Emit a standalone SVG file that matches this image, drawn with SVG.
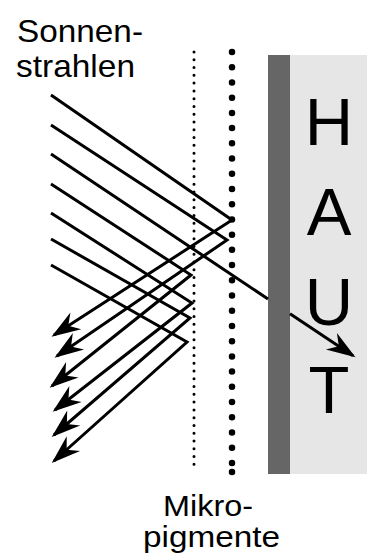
<svg xmlns="http://www.w3.org/2000/svg" width="367" height="556" viewBox="0 0 367 556">
<defs>
<style>
.lbl{font-family:"Liberation Sans",Arial,sans-serif;font-size:32px;fill:#000}
.lbl2{font-family:"Liberation Sans",Arial,sans-serif;font-size:29px;fill:#000}
.big{font-family:"Liberation Sans",Arial,sans-serif;font-size:67px;fill:#000;text-anchor:middle}
.ray{fill:none;stroke:#000;stroke-width:3;stroke-linejoin:miter;marker-end:url(#ah)}
</style>
<marker id="ah" markerUnits="userSpaceOnUse" orient="auto" refX="0" refY="0" markerWidth="40" markerHeight="40" overflow="visible">
<path d="M3,0 L-26,-10 L-17,0 L-26,10 Z" fill="#000"/>
</marker>
</defs>
<rect width="367" height="556" fill="#fff"/>
<g id="haut">
<rect x="290" y="55" width="77" height="419" fill="#e6e6e6"/>
<rect x="268" y="55" width="22" height="419" fill="#666"/>
<text class="big" x="329" y="145">H</text>
<text class="big" x="329" y="235">A</text>
<text class="big" x="329" y="325">U</text>
<text class="big" x="329" y="413">T</text>
</g>
<g id="mikropigmente">
<line x1="194" y1="52" x2="194" y2="472" stroke="#000" stroke-width="3" stroke-linecap="round" stroke-dasharray="0 7.78"/>
<line x1="232" y1="52" x2="232" y2="463" stroke="#000" stroke-width="6.5" stroke-linecap="round" stroke-dasharray="0 15.22"/>
<circle cx="232" cy="472" r="3.25" fill="#000"/>
</g>
<g id="label-sonnen">
<text class="lbl" x="17" y="42" textLength="126" lengthAdjust="spacingAndGlyphs">Sonnen-</text>
<text class="lbl" x="16" y="77" textLength="119" lengthAdjust="spacingAndGlyphs">strahlen</text>
</g>
<g id="label-mikro">
<text class="lbl2" x="163" y="516" textLength="90" lengthAdjust="spacingAndGlyphs">Mikro-</text>
<text class="lbl2" x="143" y="547" textLength="137" lengthAdjust="spacingAndGlyphs">pigmente</text>
</g>
<g id="connectors">
<path class="ray" d="M51,95 L232,220 L54,335"/>
<path class="ray" d="M51,125 L227,240 L57,356"/>
<path class="ray" d="M51,154 L268,299 M290,313.7 L353,355.7"/>
<path class="ray" d="M51,184 L191,275 L52,386"/>
<path class="ray" d="M51,213 L192,303 L55,410"/>
<path class="ray" d="M51,239 L190,318 L54,435"/>
<path class="ray" d="M51,265 L187,342 L54,461"/>
</g>
</svg>
